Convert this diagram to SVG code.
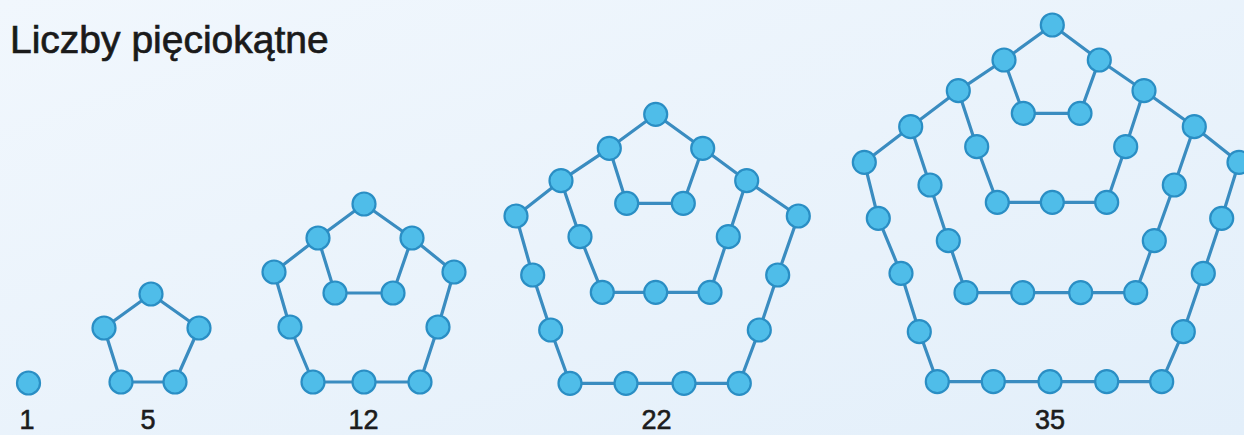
<svg xmlns="http://www.w3.org/2000/svg" width="1244" height="435" viewBox="0 0 1244 435">
<defs>
<linearGradient id="bg" x1="0" y1="0" x2="1" y2="1">
<stop offset="0" stop-color="#f1f7fd"/>
<stop offset="1" stop-color="#e3effa"/>
</linearGradient>
<style>
.ln{fill:none;stroke:#3a8cc0;stroke-width:3.2;stroke-linejoin:round}
.d{fill:#4fbde9;stroke:#2a8ec4;stroke-width:2.2}
.lbl{font-family:"Liberation Sans",Arial,sans-serif;font-size:27px;fill:#1c1c1c;stroke:#1c1c1c;stroke-width:0.6;text-anchor:middle}
.title{font-family:"Liberation Sans",Arial,sans-serif;font-size:39px;fill:#1a1a1a;stroke:#1a1a1a;stroke-width:0.7}
</style>
</defs>
<rect width="1244" height="435" fill="url(#bg)"/>
<text class="title" x="10" y="53">Liczby pięciokątne</text>

<g id="connectors">
<polygon class="ln" points="151,294 199,328 175,382 121,382 104,328"/>
<polygon class="ln" points="364,204 318,238 335,293 393,293 412,238"/>
<polyline class="ln" points="318,238 274,272 290,327 313,382 364,382 420,382 438,327 454,272 412,238"/>
<polygon class="ln" points="655.7,114.3 609.3,148.3 626.7,203.3 683.3,203.3 702.7,148.3"/>
<polyline class="ln" points="609.3,148.3 561,180.7 580,236.7 602.3,292.3 655.7,292.3 710,292.3 728.3,236.7 746.7,180.7 702.7,148.3"/>
<polyline class="ln" points="561,180.7 516,216 532.7,275 550.7,330 570,383.3 626,383.3 684,383.3 739.3,383.3 759.3,330 777.7,275 798.3,216 746.7,180.7"/>
<polygon class="ln" points="1052.3,25 1004,60 1023.3,113.3 1080,113.3 1099.3,60"/>
<polyline class="ln" points="1004,60 958.3,90.7 976.7,146.7 997.3,202.3 1052.3,202.3 1106.7,202.3 1125.7,146.7 1144,90.7 1099.3,60"/>
<polyline class="ln" points="958.3,90.7 910.7,126.7 930,185 948.3,240.7 966,292.7 1022.7,292.7 1080.7,292.7 1135.7,292.7 1154.3,240.7 1174.3,185 1194.3,126.7 1144,90.7"/>
<polyline class="ln" points="910.7,126.7 864.3,162.3 878.3,218.3 901,273.3 919.3,331.7 937.3,381.7 993.3,381.7 1050,381.7 1106.7,381.7 1161.7,381.7 1183.3,331.7 1203.3,273.3 1221.7,218.3 1239,162.3 1194.3,126.7"/>
</g>

<g id="fig-1">
<circle class="d" cx="28.5" cy="383" r="11.5"/>
<text class="lbl" x="27" y="429">1</text>
</g>

<g id="fig-5">
<circle class="d" cx="151" cy="294" r="11.5"/>
<circle class="d" cx="199" cy="328" r="11.5"/>
<circle class="d" cx="175" cy="382" r="11.5"/>
<circle class="d" cx="121" cy="382" r="11.5"/>
<circle class="d" cx="104" cy="328" r="11.5"/>
<text class="lbl" x="148" y="429">5</text>
</g>

<g id="fig-12">
<circle class="d" cx="364" cy="204" r="11.5"/>
<circle class="d" cx="318" cy="238" r="11.5"/>
<circle class="d" cx="412" cy="238" r="11.5"/>
<circle class="d" cx="335" cy="293" r="11.5"/>
<circle class="d" cx="393" cy="293" r="11.5"/>
<circle class="d" cx="274" cy="272" r="11.5"/>
<circle class="d" cx="454" cy="272" r="11.5"/>
<circle class="d" cx="290" cy="327" r="11.5"/>
<circle class="d" cx="438" cy="327" r="11.5"/>
<circle class="d" cx="313" cy="382" r="11.5"/>
<circle class="d" cx="364" cy="382" r="11.5"/>
<circle class="d" cx="420" cy="382" r="11.5"/>
<text class="lbl" x="363.5" y="429">12</text>
</g>

<g id="fig-22">
<circle class="d" cx="655.7" cy="114.3" r="11.5"/>
<circle class="d" cx="609.3" cy="148.3" r="11.5"/>
<circle class="d" cx="702.7" cy="148.3" r="11.5"/>
<circle class="d" cx="626.7" cy="203.3" r="11.5"/>
<circle class="d" cx="683.3" cy="203.3" r="11.5"/>
<circle class="d" cx="561" cy="180.7" r="11.5"/>
<circle class="d" cx="746.7" cy="180.7" r="11.5"/>
<circle class="d" cx="580" cy="236.7" r="11.5"/>
<circle class="d" cx="728.3" cy="236.7" r="11.5"/>
<circle class="d" cx="602.3" cy="292.3" r="11.5"/>
<circle class="d" cx="655.7" cy="292.3" r="11.5"/>
<circle class="d" cx="710" cy="292.3" r="11.5"/>
<circle class="d" cx="516" cy="216" r="11.5"/>
<circle class="d" cx="798.3" cy="216" r="11.5"/>
<circle class="d" cx="532.7" cy="275" r="11.5"/>
<circle class="d" cx="550.7" cy="330" r="11.5"/>
<circle class="d" cx="570" cy="383.3" r="11.5"/>
<circle class="d" cx="626" cy="383.3" r="11.5"/>
<circle class="d" cx="684" cy="383.3" r="11.5"/>
<circle class="d" cx="739.3" cy="383.3" r="11.5"/>
<circle class="d" cx="759.3" cy="330" r="11.5"/>
<circle class="d" cx="777.7" cy="275" r="11.5"/>
<text class="lbl" x="656.5" y="429">22</text>
</g>

<g id="fig-35">
<circle class="d" cx="1052.3" cy="25" r="11.5"/>
<circle class="d" cx="1004" cy="60" r="11.5"/>
<circle class="d" cx="1099.3" cy="60" r="11.5"/>
<circle class="d" cx="1023.3" cy="113.3" r="11.5"/>
<circle class="d" cx="1080" cy="113.3" r="11.5"/>
<circle class="d" cx="958.3" cy="90.7" r="11.5"/>
<circle class="d" cx="1144" cy="90.7" r="11.5"/>
<circle class="d" cx="976.7" cy="146.7" r="11.5"/>
<circle class="d" cx="1125.7" cy="146.7" r="11.5"/>
<circle class="d" cx="997.3" cy="202.3" r="11.5"/>
<circle class="d" cx="1052.3" cy="202.3" r="11.5"/>
<circle class="d" cx="1106.7" cy="202.3" r="11.5"/>
<circle class="d" cx="910.7" cy="126.7" r="11.5"/>
<circle class="d" cx="1194.3" cy="126.7" r="11.5"/>
<circle class="d" cx="930" cy="185" r="11.5"/>
<circle class="d" cx="948.3" cy="240.7" r="11.5"/>
<circle class="d" cx="966" cy="292.7" r="11.5"/>
<circle class="d" cx="1022.7" cy="292.7" r="11.5"/>
<circle class="d" cx="1080.7" cy="292.7" r="11.5"/>
<circle class="d" cx="1135.7" cy="292.7" r="11.5"/>
<circle class="d" cx="1154.3" cy="240.7" r="11.5"/>
<circle class="d" cx="1174.3" cy="185" r="11.5"/>
<circle class="d" cx="864.3" cy="162.3" r="11.5"/>
<circle class="d" cx="1239" cy="162.3" r="11.5"/>
<circle class="d" cx="878.3" cy="218.3" r="11.5"/>
<circle class="d" cx="901" cy="273.3" r="11.5"/>
<circle class="d" cx="919.3" cy="331.7" r="11.5"/>
<circle class="d" cx="937.3" cy="381.7" r="11.5"/>
<circle class="d" cx="993.3" cy="381.7" r="11.5"/>
<circle class="d" cx="1050" cy="381.7" r="11.5"/>
<circle class="d" cx="1106.7" cy="381.7" r="11.5"/>
<circle class="d" cx="1161.7" cy="381.7" r="11.5"/>
<circle class="d" cx="1183.3" cy="331.7" r="11.5"/>
<circle class="d" cx="1203.3" cy="273.3" r="11.5"/>
<circle class="d" cx="1221.7" cy="218.3" r="11.5"/>
<text class="lbl" x="1050" y="429">35</text>
</g>
</svg>
